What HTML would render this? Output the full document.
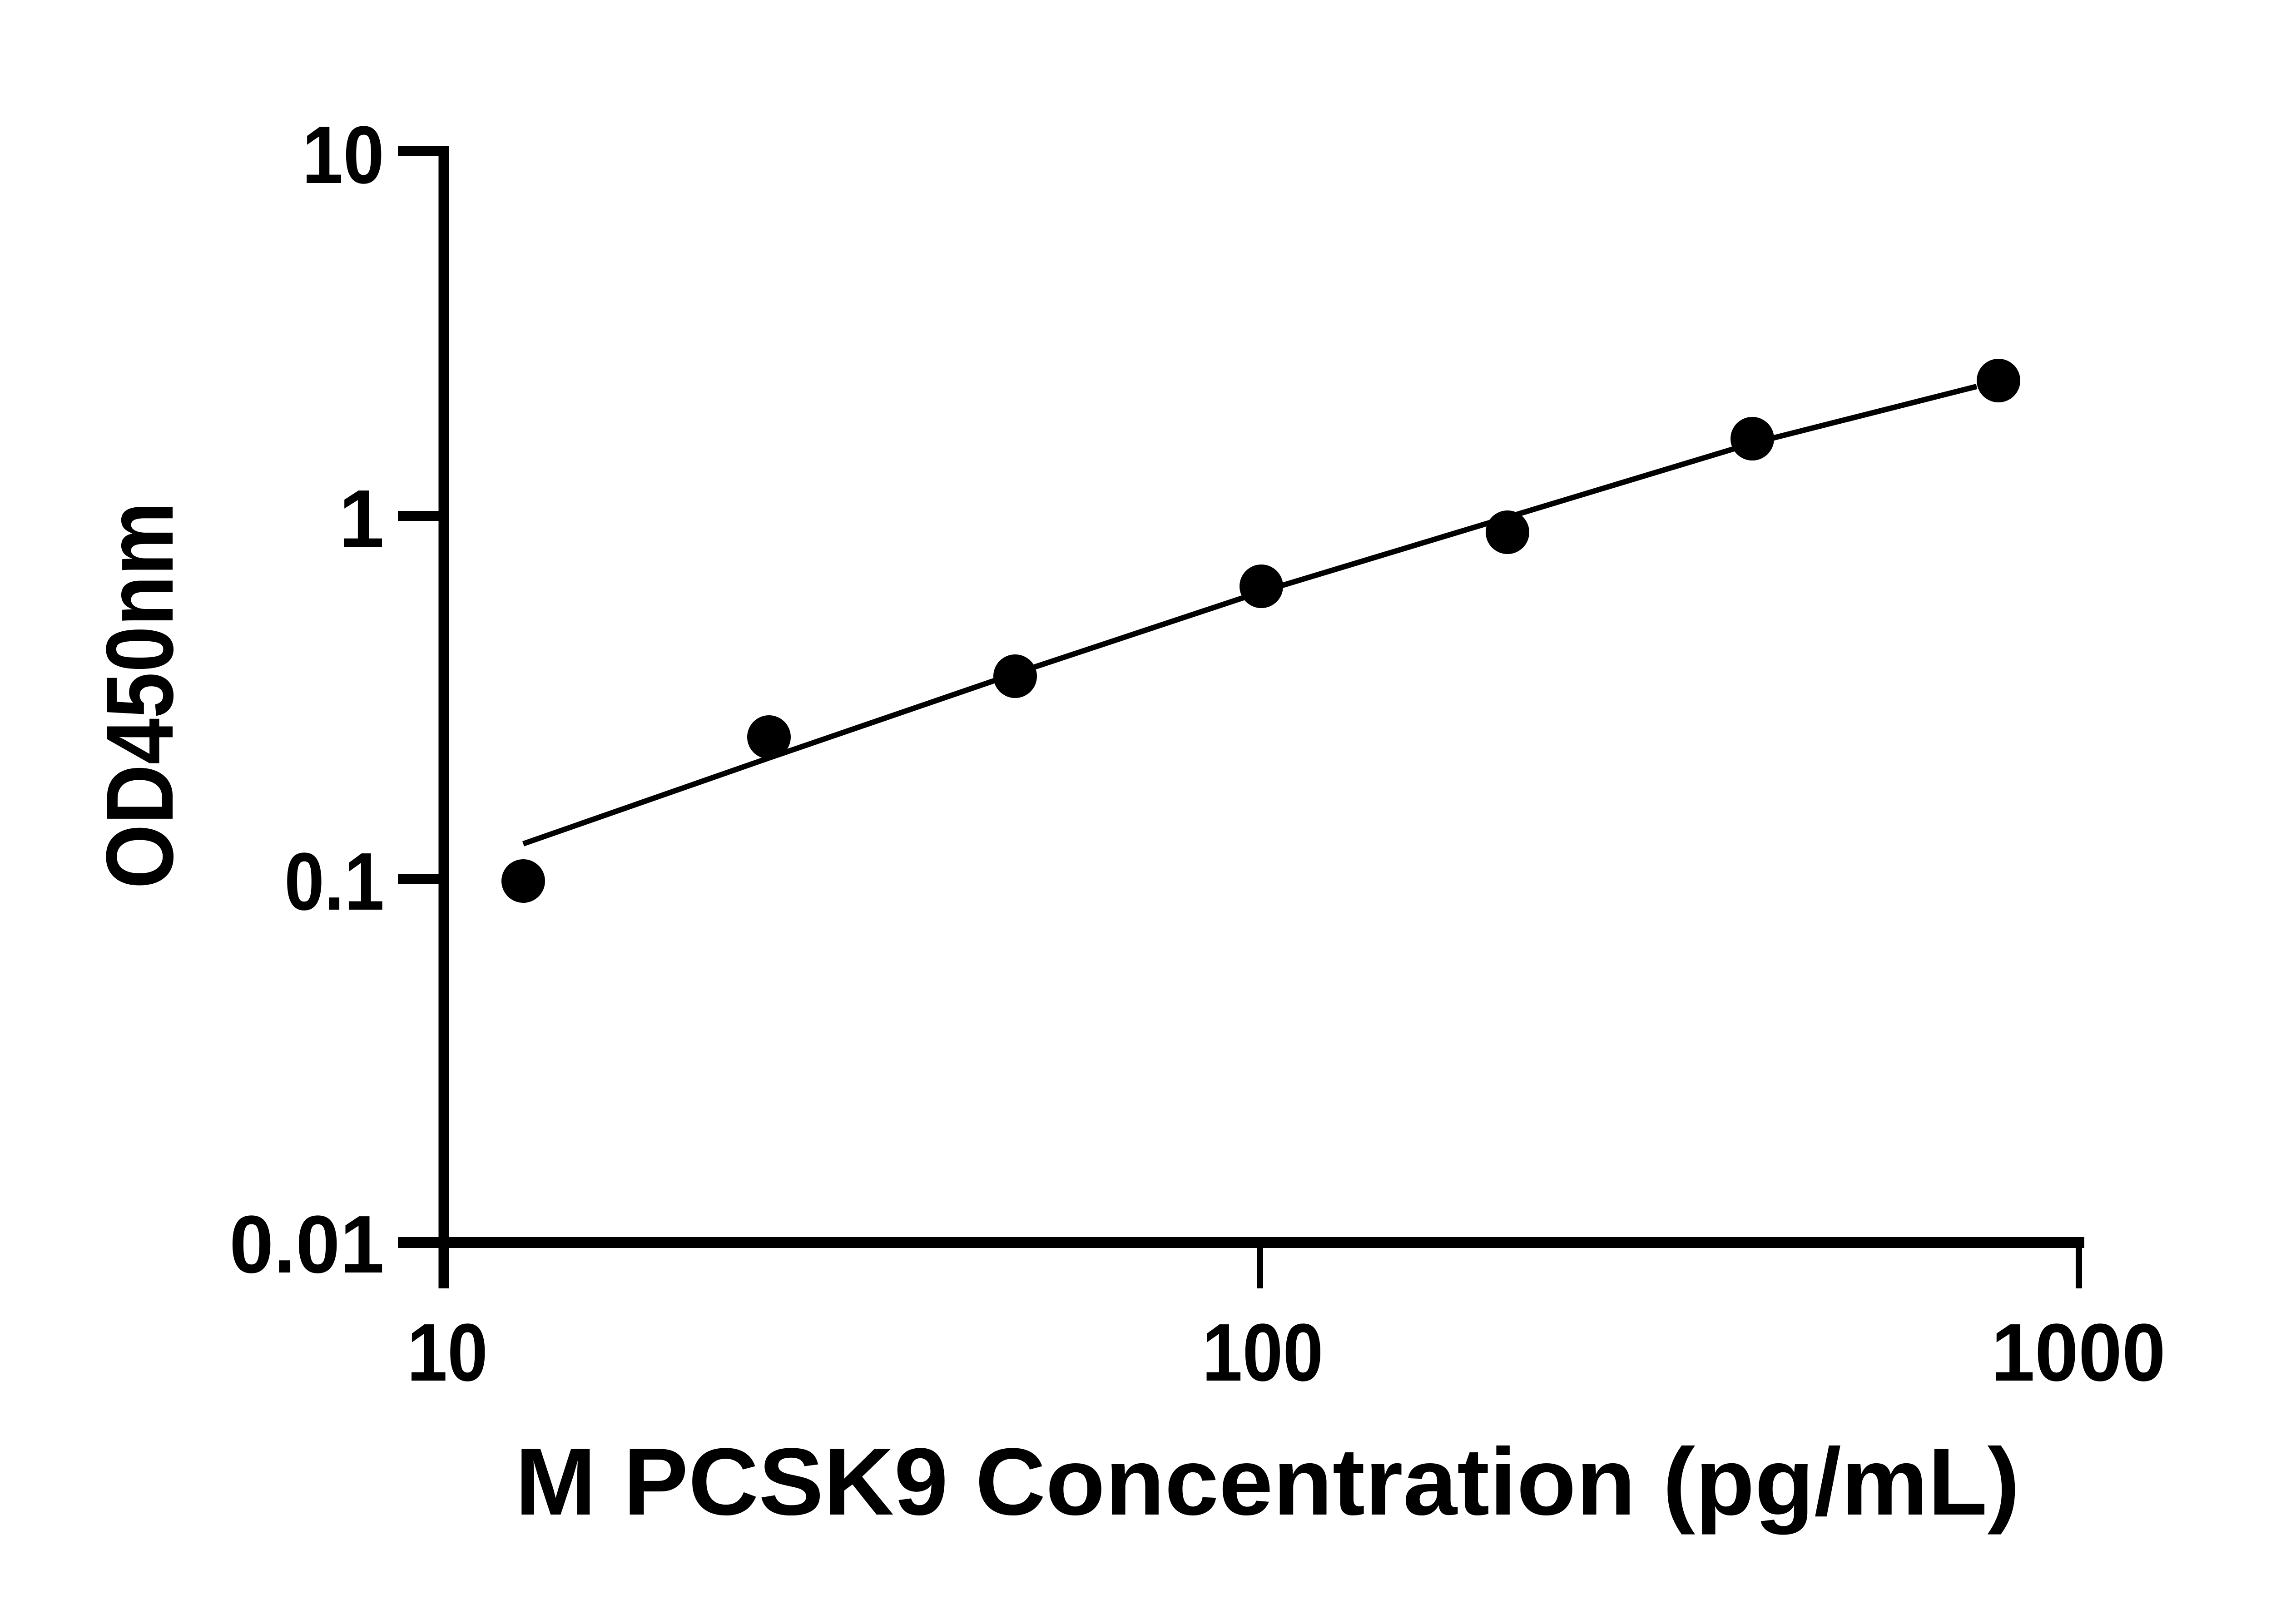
<!DOCTYPE html>
<html><head><meta charset="utf-8"><style>html,body{margin:0;padding:0;background:#fff;}svg{display:block}</style></head>
<body>
<svg width="5130" height="3576" viewBox="0 0 5130 3576" xmlns="http://www.w3.org/2000/svg">
<rect width="5130" height="3576" fill="#fff"/>
<g stroke="#000" fill="none">
<line x1="977" y1="322" x2="977" y2="2837" stroke-width="23"/>
<line x1="876" y1="333" x2="977" y2="333" stroke-width="22"/>
<line x1="876" y1="1136" x2="977" y2="1136" stroke-width="22"/>
<line x1="876" y1="1935" x2="977" y2="1935" stroke-width="22"/>
<line x1="876" y1="2736" x2="977" y2="2736" stroke-width="22"/>
<line x1="877" y1="2736" x2="4589" y2="2736" stroke-width="24"/>
<line x1="2774" y1="2736" x2="2774" y2="2837" stroke-width="14"/>
<line x1="4577" y1="2724" x2="4577" y2="2837" stroke-width="14"/>
<line x1="978" y1="2736" x2="978" y2="2837" stroke-width="14"/>
<polyline points="1152,1858 1693,1669 2235,1483 2777,1303 3319,1139 3858,976 4352,851" stroke-width="12"/>
</g>
<g fill="#000">
<circle cx="1152" cy="1940" r="48"/>
<circle cx="1693" cy="1623" r="48"/>
<circle cx="2235" cy="1489" r="48"/>
<circle cx="2777" cy="1291" r="48"/>
<circle cx="3319" cy="1172" r="48"/>
<circle cx="3858" cy="966" r="48"/>
<circle cx="4400" cy="838" r="48"/>
</g>
<g font-family="Liberation Sans, sans-serif" font-weight="bold" fill="#000">
<text x="846" y="403" font-size="180" text-anchor="end" textLength="181" lengthAdjust="spacingAndGlyphs">10</text>
<text x="846" y="1204" font-size="180" text-anchor="end">1</text>
<text x="846" y="2003" font-size="180" text-anchor="end" textLength="220" lengthAdjust="spacingAndGlyphs">0.1</text>
<text x="846" y="2802" font-size="180" text-anchor="end" textLength="341" lengthAdjust="spacingAndGlyphs">0.01</text>
<text x="985" y="3040" font-size="180" text-anchor="middle" textLength="178" lengthAdjust="spacingAndGlyphs">10</text>
<text x="2780" y="3040" font-size="180" text-anchor="middle" textLength="267" lengthAdjust="spacingAndGlyphs">100</text>
<text x="4576" y="3040" font-size="180" text-anchor="middle" textLength="384" lengthAdjust="spacingAndGlyphs">1000</text>
<text x="1134" y="3335" font-size="210" textLength="3313" lengthAdjust="spacingAndGlyphs">M PCSK9 Concentration (pg/mL)</text>
<text transform="translate(380,1957) rotate(-90)" font-size="210" textLength="852" lengthAdjust="spacingAndGlyphs">OD450nm</text>
</g>
</svg>
</body></html>
